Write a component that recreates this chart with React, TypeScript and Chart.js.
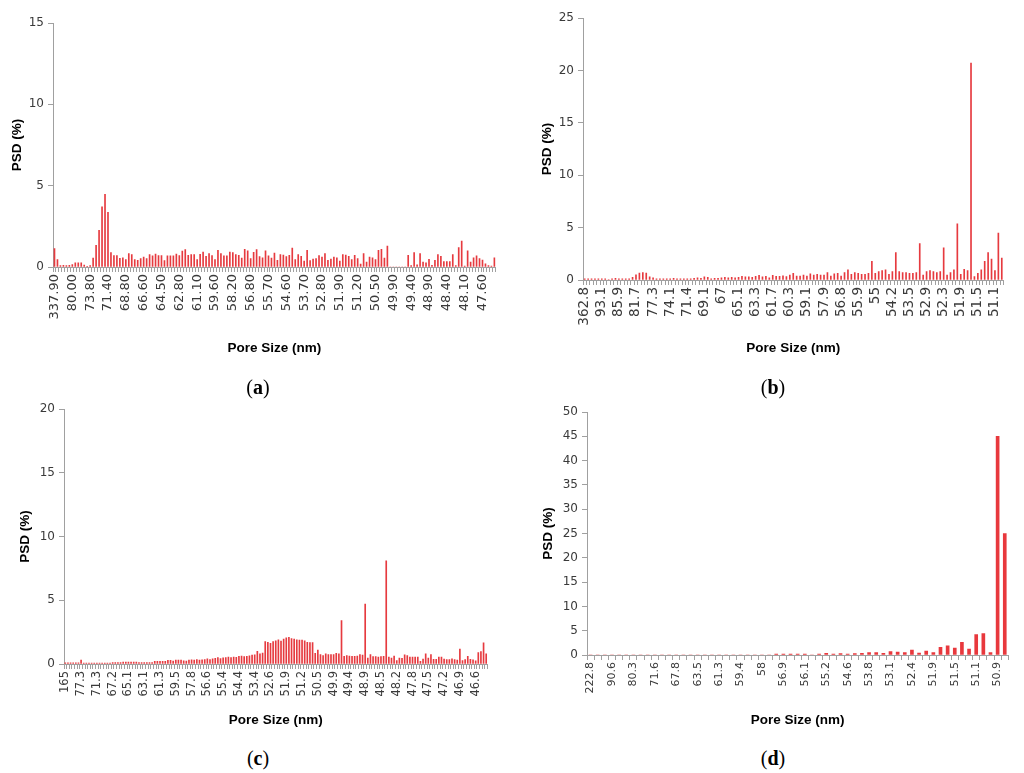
import { useEffect, useRef } from 'react'
import { Chart, registerables } from 'chart.js'

Chart.register(...registerables)

// (a) pore size distribution
const aTicks = ['337.90', '80.00', '73.80', '71.40', '68.80', '66.60', '64.50', '62.80', '61.10', '59.60', '58.20', '56.80', '55.70', '54.60', '53.70', '52.80', '51.90', '51.20', '50.50', '49.90', '49.40', '48.90', '48.40', '48.10', '47.60']
const aValues = [
  1.13, 0.45, 0.08, 0.1, 0.08, 0.1, 0.15, 0.25, 0.25, 0.25,
  0.12, 0.04, 0.08, 0.55, 1.33, 2.25, 3.7, 4.47, 3.36, 0.88,
  0.7, 0.7, 0.53, 0.57, 0.45, 0.82, 0.76, 0.45, 0.41, 0.51,
  0.61, 0.51, 0.76, 0.68, 0.8, 0.7, 0.7, 0.39, 0.68, 0.68,
  0.68, 0.8, 0.7, 0.98, 1.07, 0.72, 0.76, 0.76, 0.45, 0.78,
  0.92, 0.66, 0.82, 0.7, 0.45, 1.02, 0.82, 0.68, 0.68, 0.92,
  0.88, 0.76, 0.72, 0.55, 1.09, 1.0, 0.51, 0.9, 1.07, 0.64,
  0.57, 1.0, 0.68, 0.55, 0.86, 0.41, 0.76, 0.74, 0.64, 0.72,
  1.17, 0.45, 0.76, 0.66, 0.37, 1.02, 0.39, 0.49, 0.51, 0.7,
  0.61, 0.82, 0.41, 0.49, 0.61, 0.57, 0.37, 0.76, 0.74, 0.66,
  0.45, 0.72, 0.51, 0.18, 0.82, 0.31, 0.61, 0.57, 0.45, 1.02,
  1.09, 0.55, 1.29, 0, 0, 0, 0, 0, 0, 0.72,
  0.08, 0.88, 0.14, 0.82, 0.31, 0.25, 0.47, 0.1, 0.41, 0.76,
  0.66, 0.33, 0.33, 0.33, 0.76, 0.08, 1.19, 1.6, 0.05, 1.0,
  0.31, 0.57, 0.68, 0.51, 0.43, 0.2, 0.08, 0.05, 0.57,
]

// (b)
const bTicks = ['362.8', '93.1', '85.9', '81.7', '77.3', '74.1', '71.4', '69.1', '67', '65.1', '63.3', '61.7', '60.3', '59.1', '57.9', '56.8', '55.9', '55', '54.2', '53.5', '52.9', '52.3', '51.9', '51.5', '51.1']
const bValues = [
  0.1, 0.1, 0.1, 0.1, 0.1, 0.1, 0.1, 0.05, 0.1, 0.15, 0.1, 0.1, 0.1, 0.1,
  0.25, 0.5, 0.65, 0.7, 0.65, 0.3, 0.2, 0.1, 0.1, 0.1,
  0.1, 0.1, 0.15, 0.1, 0.1, 0.1, 0.1, 0.1, 0.15, 0.2,
  0.15, 0.3, 0.25, 0.1, 0.15, 0.15, 0.2, 0.25, 0.2, 0.25,
  0.2, 0.25, 0.35, 0.3, 0.3, 0.25, 0.35, 0.45, 0.3, 0.35,
  0.2, 0.45, 0.35, 0.35, 0.4, 0.33,
  0.48, 0.64, 0.38, 0.38, 0.48, 0.38, 0.58, 0.48, 0.54, 0.48,
  0.48, 0.7, 0.38, 0.58, 0.64, 0.38, 0.7, 0.96, 0.54, 0.7,
  0.64, 0.54, 0.54, 0.64, 1.79, 0.64, 0.8, 0.9, 0.96, 0.54,
  0.8, 2.62, 0.8, 0.7, 0.7, 0.64, 0.64, 0.7, 3.48, 0.48,
  0.8, 0.9, 0.8, 0.7, 0.8, 3.07, 0.48, 0.7, 0.96, 5.37,
  0.54, 1.02, 0.9, 20.7, 0.32, 0.64, 0.96, 1.79, 2.62, 2.0,
  0.9, 4.47, 2.1,
]

// (c)
const cTicks = ['165', '77.3', '71.3', '67.2', '65.1', '63.1', '61.3', '59.5', '57.8', '56.6', '55.4', '54.4', '53.4', '52.6', '51.9', '51.2', '50.5', '49.9', '49.4', '48.9', '48.5', '48.2', '47.8', '47.5', '47.2', '46.9', '46.6']
const cValues = [
  0.1, 0.1, 0.1, 0.1, 0.1, 0.1, 0.3, 0.08, 0.08, 0.08,
  0.08, 0.08, 0.08, 0.08, 0.08, 0.08, 0.08, 0.08, 0.12, 0.12,
  0.12, 0.12, 0.15, 0.15, 0.15, 0.15, 0.15, 0.15, 0.12, 0.12,
  0.12, 0.12, 0.12, 0.12, 0.2, 0.2, 0.2, 0.2, 0.2, 0.28,
  0.28, 0.22, 0.3, 0.3, 0.3, 0.25, 0.22, 0.3, 0.32, 0.3,
  0.35, 0.3, 0.32, 0.35, 0.4, 0.35, 0.4, 0.45, 0.5, 0.42,
  0.48, 0.5, 0.55, 0.5, 0.55, 0.52, 0.6, 0.62, 0.58, 0.6,
  0.65, 0.7, 0.72, 1.0, 0.8, 0.85, 1.75, 1.7, 1.62, 1.75,
  1.82, 1.9, 1.8, 1.95, 2.05, 2.1, 2.0, 1.95, 1.9, 1.87,
  1.87, 1.82, 1.7, 1.68, 1.68, 0.84, 1.1, 0.74, 0.66, 0.79,
  0.74, 0.74, 0.74, 0.84, 0.79, 3.4, 0.6, 0.66, 0.63, 0.6,
  0.6, 0.63, 0.74, 0.7, 4.7, 0.47, 0.74, 0.58, 0.58, 0.55,
  0.58, 0.6, 8.1, 0.55, 0.47, 0.63, 0.26, 0.47, 0.45, 0.71,
  0.66, 0.55, 0.55, 0.55, 0.55, 0.21, 0.39, 0.79, 0.47, 0.74,
  0.37, 0.37, 0.55, 0.55, 0.39, 0.34, 0.34, 0.4, 0.35, 0.3,
  1.18, 0.26, 0.34, 0.6, 0.37, 0.32, 0.25, 0.9, 0.97, 1.66, 0.79,
]

// (d)
const dTicks = ['222.8', '90.6', '80.3', '71.6', '67.8', '63.5', '61.3', '59.4', '58', '56.9', '56.1', '55.2', '54.6', '53.8', '53.1', '52.4', '51.9', '51.5', '51.1', '50.9']
const dValues = [
  0, 0, 0, 0, 0, 0, 0, 0, 0, 0,
  0, 0, 0, 0, 0, 0, 0, 0, 0, 0,
  0, 0, 0, 0, 0, 0, 0.2, 0.2, 0.2, 0.2,
  0.2, 0, 0.2, 0.35, 0.2, 0.3, 0.2, 0.3, 0.35, 0.5,
  0.5, 0.35, 0.7, 0.6, 0.5, 1.0, 0.4, 0.8, 0.5, 1.6,
  1.9, 1.4, 2.6, 1.2, 4.2, 4.4, 0.5, 45, 25,
]

const AXIS = '#a0a0a0'
const TICK_TEXT = '#3a3a3a'
const TITLE_FONT = "'Liberation Sans Narrow', 'Liberation Sans', sans-serif"
const TICK_FONT = "'DejaVu Sans', sans-serif"

interface PanelProps {
  values: number[]
  ticks: string[]
  step: number
  yMax: number
  left: number
  top: number
  width: number
  height: number
  yW: number
  xH: number
  padTop: number
  padRight: number
  barThickness: number
  xTickSize: number
  yTickSize: number
  color: string
}

function Panel(p: PanelProps) {
  const canvasRef = useRef<HTMLCanvasElement>(null)
  const chartRef = useRef<Chart | null>(null)

  useEffect(() => {
    if (!canvasRef.current) return
    if (chartRef.current) chartRef.current.destroy()

    const labels = p.values.map((_, i) => (i % p.step === 0 ? p.ticks[i / p.step] ?? '' : ''))

    chartRef.current = new Chart(canvasRef.current, {
      type: 'bar',
      data: {
        labels,
        datasets: [
          {
            data: p.values,
            backgroundColor: p.color,
            barThickness: p.barThickness,
          },
        ],
      },
      options: {
        responsive: false,
        animation: false,
        layout: { padding: { top: p.padTop, right: p.padRight, bottom: 0, left: 0 } },
        plugins: { legend: { display: false }, tooltip: { enabled: false } },
        scales: {
          x: {
            afterFit: (scale) => { scale.height = p.xH },
            grid: {
              offset: true,
              drawOnChartArea: false,
              drawTicks: true,
              tickLength: 5,
              color: AXIS,
            },
            border: { display: true, color: AXIS },
            ticks: {
              autoSkip: false,
              minRotation: 90,
              maxRotation: 90,
              padding: 2,
              color: TICK_TEXT,
              font: { family: TICK_FONT, size: p.xTickSize },
            },
            title: {
              display: true,
              text: 'Pore Size (nm)',
              color: '#000',
              padding: 0,
              font: { family: TITLE_FONT, size: 13.5, weight: 'bold' },
            },
          },
          y: {
            min: 0,
            max: p.yMax,
            afterFit: (scale) => { scale.width = p.yW },
            grid: {
              drawOnChartArea: false,
              drawTicks: true,
              tickLength: 5,
              color: AXIS,
            },
            border: { display: true, color: AXIS },
            ticks: {
              stepSize: 5,
              padding: 4,
              color: TICK_TEXT,
              font: { family: TICK_FONT, size: p.yTickSize },
            },
            title: {
              display: true,
              text: 'PSD (%)',
              color: '#000',
              padding: 0,
              font: { family: TITLE_FONT, size: 13.5, weight: 'bold' },
            },
          },
        },
      },
    })

    return () => { chartRef.current?.destroy() }
  }, [p])

  return (
    <div style={{ position: 'absolute', left: p.left, top: p.top, width: p.width, height: p.height }}>
      <canvas ref={canvasRef} width={p.width} height={p.height} style={{ width: p.width, height: p.height }} />
    </div>
  )
}

function Caption({ letter, x, y }: { letter: string; x: number; y: number }) {
  return (
    <div
      style={{
        position: 'absolute',
        left: x - 30,
        top: y - 12,
        width: 60,
        textAlign: 'center',
        fontFamily: "'Liberation Serif', serif",
        fontSize: 20,
        lineHeight: '24px',
        color: '#000',
      }}
    >
      (<b>{letter}</b>)
    </div>
  )
}

export default function App() {
  return (
    <div style={{ position: 'absolute', left: 0, top: 0, width: 1024, height: 773, background: '#fff', overflow: 'hidden' }}>
      <Panel values={aValues} ticks={aTicks} step={6} yMax={15}
        left={9} top={5} width={503} height={351} yW={44} xH={89} padTop={18} padRight={4}
        barThickness={1} xTickSize={13} yTickSize={12} color="#e63a3f" />
      <Panel values={bValues} ticks={bTicks} step={5} yMax={25}
        left={539} top={0} width={481} height={356} yW={44} xH={76} padTop={18} padRight={4}
        barThickness={1} xTickSize={13.5} yTickSize={12} color="#e63a3f" />
      <Panel values={cValues} ticks={cTicks} step={6} yMax={20}
        left={17} top={390} width={485} height={338} yW={47} xH={64} padTop={19} padRight={4}
        barThickness={1} xTickSize={11.5} yTickSize={12} color="#e63a3f" />
      <Panel values={dValues} ticks={dTicks} step={3} yMax={50}
        left={540} top={392} width={480} height={336} yW={47} xH={73} padTop={20} padRight={4}
        barThickness={3} xTickSize={11} yTickSize={12} color="#e8383d" />
      <Caption letter="a" x={258} y={387} />
      <Caption letter="b" x={773} y={387} />
      <Caption letter="c" x={258} y={758} />
      <Caption letter="d" x={773} y={758} />
    </div>
  )
}
